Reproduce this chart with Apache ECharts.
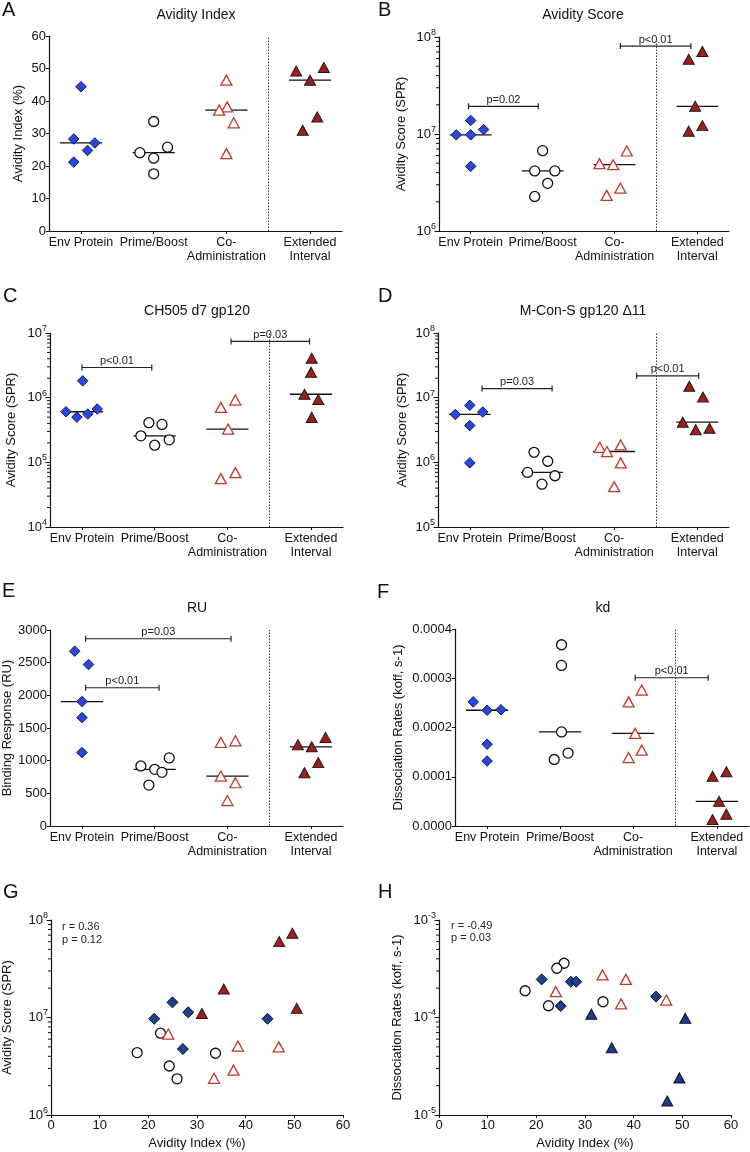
<!DOCTYPE html>
<html><head><meta charset="utf-8">
<script src="https://cdn.jsdelivr.net/npm/echarts@6/dist/echarts.min.js"></script>
<style>html,body{margin:0;padding:0;background:#fff}#c{width:750px;height:1152px}</style>
</head><body><div id="c"></div>
<script>
// ---------- categories ----------
const groups = ['Env Protein', 'Prime/Boost', 'Co-\nAdministration', 'Extended\nInterval'];
const groupPos = [1, 2, 3, 4.15];
const dividerPos = 3.58;

// ---------- Panel A: Avidity Index ----------
const A_env = [44.4, 28.3, 27.1, 24.8, 21.2];
const A_envJit = [0, -0.1, 0.19, 0.09, -0.1];
const A_prime = [33.7, 25.8, 24.1, 22.4, 17.6];
const A_primeJit = [0, 0.19, -0.19, 0, 0];
const A_co = [46.4, 38.2, 37.2, 33.3, 23.8];
const A_coJit = [0, 0.01, -0.1, 0.1, 0];
const A_ext = [50.3, 49.2, 46.4, 35.1, 31.0];
const A_extJit = [0.19, -0.19, 0, 0.1, -0.1];

// ---------- Panel B: Avidity Score ----------
const B_env = [1.38e7, 1.11e7, 9.8e6, 9.8e6, 4.64e6];
const B_envJit = [0, 0.18, -0.2, 0, 0];
const B_prime = [6.73e6, 4.16e6, 4.16e6, 3.1e6, 2.27e6];
const B_primeJit = [0, -0.11, 0.17, 0.07, -0.11];
const B_co = [6.68e6, 4.94e6, 4.83e6, 2.77e6, 2.33e6];
const B_coJit = [0.17, -0.21, -0.02, 0.08, -0.11];
const B_ext = [7.1e7, 5.9e7, 1.93e7, 1.22e7, 1.07e7];
const B_extJit = [0.07, -0.12, -0.03, 0.07, -0.12];
const B_brackets = [[0.97, 1.94, 1.93e7, 'p=0.02'], [3.08, 4.06, 8.07e7, 'p<0.01']];

// ---------- Panel C: CH505 d7 gp120 ----------
const C_env = [1.82e6, 6.67e5, 6.06e5, 5.58e5, 5.0e5];
const C_envJit = [0.01, 0.21, -0.22, 0.08, -0.07];
const C_prime = [4.1e5, 3.86e5, 2.57e5, 2.23e5, 1.84e5];
const C_primeJit = [-0.08, 0.1, -0.19, 0.2, 0];
const C_co = [9.2e5, 7.08e5, 3.27e5, 6.93e4, 5.6e4];
const C_coJit = [0.11, -0.09, 0.01, 0.11, -0.09];
const C_ext = [4.07e6, 2.47e6, 1.13e6, 9.4e5, 4.95e5];
const C_extJit = [0.01, 0, -0.09, 0.1, 0.01];
const C_brackets = [[1.0, 1.96, 2.93e6, 'p<0.01'], [3.05, 4.13, 7.4e6, 'p=0.03']];

// ---------- Panel D: M-Con-S gp120 Δ11 ----------
const D_env = [7.6e6, 5.99e6, 5.5e6, 3.7e6, 9.8e5];
const D_envJit = [0, 0.18, -0.2, 0, 0];
const D_prime = [1.43e6, 1.04e6, 6.98e5, 6.2e5, 4.6e5];
const D_primeJit = [-0.11, 0.08, -0.2, 0.18, 0];
const D_co = [1.86e6, 1.71e6, 1.47e6, 9.8e5, 4.2e5];
const D_coJit = [0.09, -0.2, -0.1, 0.09, 0];
const D_ext = [1.5e7, 1.02e7, 4.18e6, 3.36e6, 3.2e6];
const D_extJit = [-0.11, 0.08, -0.2, 0.17, -0.02];
const D_brackets = [[1.17, 2.14, 1.38e7, 'p=0.03'], [3.31, 4.17, 2.18e7, 'p<0.01']];

// ---------- Panel E: RU ----------
const E_env = [2676, 2471, 1905, 1659, 1124];
const E_envJit = [-0.1, 0.09, 0, 0, 0];
const E_prime = [1042, 919, 867, 821, 626];
const E_primeJit = [0.2, -0.19, 0, 0.1, -0.08];
const E_co = [1304, 1278, 764, 662, 390];
const E_coJit = [0.11, -0.09, -0.09, 0.11, 0];
const E_ext = [1356, 1243, 1212, 970, 816];
const E_extJit = [0.2, -0.18, 0.01, 0.1, -0.09];
const E_brackets = [[1.05, 3.05, 2866, 'p=0.03'], [1.05, 2.06, 2116, 'p<0.01']];

// ---------- Panel F: kd ----------
const F_env = [0.000252, 0.000236, 0.000235, 0.000166, 0.000132];
const F_envJit = [-0.19, 0.19, 0, 0, 0];
const F_prime = [0.000368, 0.000326, 0.000191, 0.000148, 0.000135];
const F_primeJit = [0.02, 0.02, 0.02, 0.11, -0.08];
const F_co = [0.000276, 0.000252, 0.000188, 0.000154, 0.000139];
const F_coJit = [0.12, -0.06, 0.03, 0.12, -0.06];
const F_ext = [0.000110, 0.000101, 0.000050, 0.000024, 0.000013];
const F_extJit = [0.13, -0.06, 0.03, 0.13, -0.06];
const F_brackets = [[3.03, 4.03, 0.000301, 'p<0.01']];

// ---------- Panel G: Avidity Index vs Avidity Score ----------
const G_env = [[24.95, 1.43e7], [28.2, 1.13e7], [21.2, 9.7e6], [44.5, 9.7e6], [27.1, 4.75e6]];
const G_prime = [[22.5, 6.9e6], [17.7, 4.37e6], [33.8, 4.3e6], [24.3, 3.18e6], [25.9, 2.35e6]];
const G_co = [[24.1, 6.77e6], [38.4, 5.1e6], [46.8, 5.0e6], [37.5, 2.88e6], [33.5, 2.38e6]];
const G_ext = [[49.6, 7.3e7], [46.9, 6.0e7], [35.5, 1.96e7], [50.5, 1.24e7], [31.0, 1.1e7]];
const G_stats = ['r = 0.36', 'p = 0.12'];

// ---------- Panel H: Avidity Index vs Dissociation Rate ----------
const H_env = [[21.1, 2.46e-4], [27.1, 2.33e-4], [28.2, 2.33e-4], [44.6, 1.64e-4], [25.0, 1.31e-4]];
const H_prime = [[25.7, 3.6e-4], [24.2, 3.2e-4], [17.7, 1.88e-4], [33.7, 1.45e-4], [22.5, 1.32e-4]];
const H_co = [[33.6, 2.73e-4], [38.4, 2.46e-4], [24.0, 1.84e-4], [46.7, 1.51e-4], [37.4, 1.38e-4]];
const H_ext = [[31.3, 1.08e-4], [50.6, 9.8e-5], [35.5, 4.9e-5], [49.4, 2.4e-5], [46.9, 1.39e-5]];
const H_stats = ['r = -0.49', 'p = 0.03'];

// ---------- styles ----------
const FONT = 'Liberation Sans, Arial, Helvetica, sans-serif';
const INK = '#111';
const ST = {
  env:   { symbol: 'diamond', size: 10.5, itemStyle: { color: '#2a46e2', borderColor: '#1b1b4a', borderWidth: 1, opacity: 1 } },
  envN:  { symbol: 'diamond', size: 11, itemStyle: { color: '#1c4094', borderColor: '#111', borderWidth: 1, opacity: 1 } },
  prime: { symbol: 'circle', size: 10, itemStyle: { color: '#fff', borderColor: '#111', borderWidth: 1.3, opacity: 1 } },
  co:    { symbol: 'triangle', size: [11, 10], itemStyle: { color: '#fff', borderColor: '#c0392b', borderWidth: 1.3, opacity: 1 } },
  ext:   { symbol: 'triangle', size: [11, 10], itemStyle: { color: '#a01f18', borderColor: '#1a1a1a', borderWidth: 1, opacity: 1 } },
  extN:  { symbol: 'triangle', size: [11, 10], itemStyle: { color: '#1c3a94', borderColor: '#111', borderWidth: 1, opacity: 1 } }
};

const grids = [], xAxes = [], yAxes = [], series = [];

function median(arr) { const s = arr.slice().sort((a, b) => a - b); return s[Math.floor(s.length / 2)]; }

const axisLineStyle = { color: INK, width: 1.2 };
function catX(gi) {
  xAxes.push({
    gridIndex: gi, type: 'value', min: 0.56, max: 4.59, splitLine: { show: false },
    axisLine: { lineStyle: axisLineStyle },
    axisTick: { show: true, length: 3, customValues: groupPos, lineStyle: { color: INK } },
    axisLabel: {
      customValues: groupPos, color: INK, fontSize: 12.5, lineHeight: 14, margin: 5, fontFamily: FONT,
      formatter: v => { const i = groupPos.findIndex(p => Math.abs(p - v) < 0.01); return i >= 0 ? groups[i] : ''; }
    }
  });
  return xAxes.length - 1;
}
function valX(gi) {
  xAxes.push({
    gridIndex: gi, type: 'value', min: 0, max: 60, interval: 10, splitLine: { show: false },
    name: 'Avidity Index (%)', nameLocation: 'middle', nameGap: 22,
    nameTextStyle: { color: INK, fontSize: 13, fontFamily: FONT },
    axisLine: { lineStyle: axisLineStyle }, axisTick: { length: 3, lineStyle: { color: INK } },
    axisLabel: { color: INK, fontSize: 13, margin: 4, fontFamily: FONT }
  });
  return xAxes.length - 1;
}
function linY(gi, min, max, interval, name, nameGap, fmt) {
  yAxes.push({
    gridIndex: gi, type: 'value', position: 'left', min, max, interval, name, nameLocation: 'middle', nameGap,
    nameTextStyle: { color: INK, fontSize: 13, fontFamily: FONT },
    axisLine: { show: true, lineStyle: axisLineStyle }, axisTick: { show: true, length: 3, lineStyle: { color: INK } },
    axisLabel: { color: INK, fontSize: 13, margin: 3, fontFamily: FONT, formatter: fmt || (v => String(v)) },
    splitLine: { show: false }
  });
  return { yi: yAxes.length - 1, minors: null };
}
function logY(gi, min, max, name, nameGap) {
  const e0 = Math.round(Math.log10(min)), e1 = Math.round(Math.log10(max));
  const decades = [], minors = [];
  for (let e = e0; e <= e1; e++) decades.push(Math.pow(10, e));
  for (let e = e0; e < e1; e++) for (let k = 2; k <= 9; k++) minors.push(k * Math.pow(10, e));
  yAxes.push({
    gridIndex: gi, type: 'log', logBase: 10, position: 'left', min, max, name, nameLocation: 'middle', nameGap,
    nameTextStyle: { color: INK, fontSize: 13, fontFamily: FONT },
    axisLine: { show: true, lineStyle: axisLineStyle },
    axisTick: { show: true, length: 4.5, customValues: decades, lineStyle: { color: INK } },
    axisLabel: {
      margin: 3, customValues: decades,
      formatter: v => '{b|10}{s|' + Math.round(Math.log10(v)) + '}',
      rich: { b: { fontSize: 13, lineHeight: 18, color: INK, fontFamily: FONT },
              s: { fontSize: 9, verticalAlign: 'top', color: INK, fontFamily: FONT } }
    },
    splitLine: { show: false }
  });
  return { yi: yAxes.length - 1, minors };
}
// minor ticks of a log axis, drawn through the axis scale
function addMinorTicks(xi, yi, xMin, minors) {
  if (!minors) return;
  series.push({
    type: 'custom', xAxisIndex: xi, yAxisIndex: yi, z: 5, silent: true, clip: false,
    data: minors.map(v => [xMin, v]),
    renderItem: (p, api) => {
      const c = api.coord([api.value(0), api.value(1)]);
      return { type: 'line', shape: { x1: c[0] - 3, y1: c[1], x2: c[0], y2: c[1] }, style: { stroke: INK, lineWidth: 1 } };
    }
  });
}

function catPanel(grid, yMaker, data, jits, brackets) {
  grids.push(grid);
  const gi = grids.length - 1;
  const xi = catX(gi);
  const yr = yMaker(gi), yi = yr.yi;
  addMinorTicks(xi, yi, 0.56, yr.minors);
  const styles = [ST.env, ST.prime, ST.co, ST.ext];
  // medians
  series.push({
    type: 'custom', xAxisIndex: xi, yAxisIndex: yi, z: 2, silent: true,
    data: data.map((vals, g) => [groupPos[g], median(vals)]),
    renderItem: (p, api) => {
      const x = api.value(0), y = api.value(1);
      const a = api.coord([x - 0.29, y]), b = api.coord([x + 0.29, y]);
      return { type: 'line', shape: { x1: a[0], y1: a[1], x2: b[0], y2: b[1] }, style: { stroke: INK, lineWidth: 1.3 } };
    }
  });
  data.forEach((vals, g) => {
    const st = styles[g];
    const s = {
      type: 'scatter', xAxisIndex: xi, yAxisIndex: yi, z: 3, symbol: st.symbol, symbolSize: st.size,
      itemStyle: st.itemStyle, data: vals.map((v, k) => [groupPos[g] + jits[g][k], v])
    };
    if (g === 0) {
      s.markLine = { silent: true, symbol: 'none', label: { show: false },
        lineStyle: { type: [1.5, 1.5], color: '#333', width: 1 }, data: [{ xAxis: dividerPos }] };
    }
    series.push(s);
  });
  if (brackets && brackets.length) {
    series.push({
      type: 'custom', xAxisIndex: xi, yAxisIndex: yi, z: 4, silent: true,
      data: brackets.map(b => [b[0], b[2]]),
      renderItem: (p, api) => {
        const br = brackets[p.dataIndex];
        const a = api.coord([br[0], br[2]]), b = api.coord([br[1], br[2]]);
        const cs = { stroke: '#222', lineWidth: 1.2 };
        return { type: 'group', children: [
          { type: 'line', shape: { x1: a[0], y1: a[1], x2: b[0], y2: b[1] }, style: cs },
          { type: 'line', shape: { x1: a[0], y1: a[1] - 3, x2: a[0], y2: a[1] + 3 }, style: cs },
          { type: 'line', shape: { x1: b[0], y1: b[1] - 3, x2: b[0], y2: b[1] + 3 }, style: cs },
          { type: 'text', style: { text: br[3], x: (a[0] + b[0]) / 2, y: a[1] - 1, textAlign: 'center',
            textVerticalAlign: 'bottom', fontSize: 11, fontFamily: FONT, fill: '#222' } }
        ] };
      }
    });
  }
}

function scatterPanel(grid, yMaker, sets, styles) {
  grids.push(grid);
  const gi = grids.length - 1;
  const xi = valX(gi);
  const yr = yMaker(gi), yi = yr.yi;
  addMinorTicks(xi, yi, 0, yr.minors);
  sets.forEach((d, g) => {
    const st = styles[g];
    series.push({ type: 'scatter', xAxisIndex: xi, yAxisIndex: yi, z: 3, symbol: st.symbol, symbolSize: st.size,
      itemStyle: st.itemStyle, data: d });
  });
}

// A
catPanel({ left: 49, top: 36, width: 293, height: 195 },
  gi => linY(gi, 0, 60, 10, 'Avidity Index (%)', 24),
  [A_env, A_prime, A_co, A_ext], [A_envJit, A_primeJit, A_coJit, A_extJit], []);
// B
catPanel({ left: 439, top: 37, width: 290, height: 194 },
  gi => logY(gi, 1e6, 1e8, 'Avidity Score (SPR)', 31),
  [B_env, B_prime, B_co, B_ext], [B_envJit, B_primeJit, B_coJit, B_extJit], B_brackets);
// C
catPanel({ left: 50, top: 333, width: 293, height: 194 },
  gi => logY(gi, 1e4, 1e7, 'Avidity Score (SPR)', 32),
  [C_env, C_prime, C_co, C_ext], [C_envJit, C_primeJit, C_coJit, C_extJit], C_brackets);
// D
catPanel({ left: 438, top: 333, width: 291, height: 194 },
  gi => logY(gi, 1e5, 1e8, 'Avidity Score (SPR)', 29),
  [D_env, D_prime, D_co, D_ext], [D_envJit, D_primeJit, D_coJit, D_extJit], D_brackets);
// E
catPanel({ left: 50, top: 630, width: 293, height: 196 },
  gi => linY(gi, 0, 3000, 500, 'Binding Response (RU)', 35),
  [E_env, E_prime, E_co, E_ext], [E_envJit, E_primeJit, E_coJit, E_extJit], E_brackets);
// F
catPanel({ left: 455, top: 629, width: 294, height: 197 },
  gi => linY(gi, 0, 0.0004, 0.0001, 'Dissociation Rates (koff, s-1)', 50, v => v.toFixed(4)),
  [F_env, F_prime, F_co, F_ext], [F_envJit, F_primeJit, F_coJit, F_extJit], F_brackets);
// G
scatterPanel({ left: 50, top: 920, width: 293, height: 195 },
  gi => logY(gi, 1e6, 1e8, 'Avidity Score (SPR)', 37),
  [G_env, G_prime, G_co, G_ext], [ST.envN, ST.prime, ST.co, ST.ext]);
// H
scatterPanel({ left: 439, top: 920, width: 292, height: 195 },
  gi => logY(gi, 1e-5, 1e-3, 'Dissociation Rates (koff, s-1)', 35),
  [H_env, H_prime, H_co, H_ext], [ST.envN, ST.prime, ST.co, ST.extN]);

// ---------- text ----------
const letters = [['A', 2, 10], ['B', 378, 10], ['C', 3, 296], ['D', 378, 296], ['E', 2, 591], ['F', 377, 592], ['G', 3, 892], ['H', 378, 892]];
const titles = [['Avidity Index', 196, 15], ['Avidity Score', 583, 15], ['CH505 d7 gp120', 197, 311],
  ['M-Con-S gp120 Δ11', 583, 311], ['RU', 197, 608], ['kd', 603, 608]];
const notes = [[G_stats[0], 62, 927], [G_stats[1], 62, 940], [H_stats[0], 451, 926], [H_stats[1], 451, 938]];
const graphic = [];
letters.forEach(l => graphic.push({ type: 'text', style: { text: l[0], x: l[1], y: l[2], textAlign: 'left', textVerticalAlign: 'middle', fontSize: 20, fontFamily: FONT, fill: INK } }));
titles.forEach(t => graphic.push({ type: 'text', style: { text: t[0], x: t[1], y: t[2], textAlign: 'center', textVerticalAlign: 'middle', fontSize: 14, fontFamily: FONT, fill: INK } }));
notes.forEach(t => graphic.push({ type: 'text', style: { text: t[0], x: t[1], y: t[2], textAlign: 'left', textVerticalAlign: 'middle', fontSize: 11, fontFamily: FONT, fill: '#222' } }));

const chart = echarts.init(document.getElementById('c'), null, { renderer: 'canvas' });
chart.setOption({
  backgroundColor: '#fff', animation: false,
  textStyle: { fontFamily: FONT },
  grid: grids, xAxis: xAxes, yAxis: yAxes, series, graphic
});
</script></body></html>
